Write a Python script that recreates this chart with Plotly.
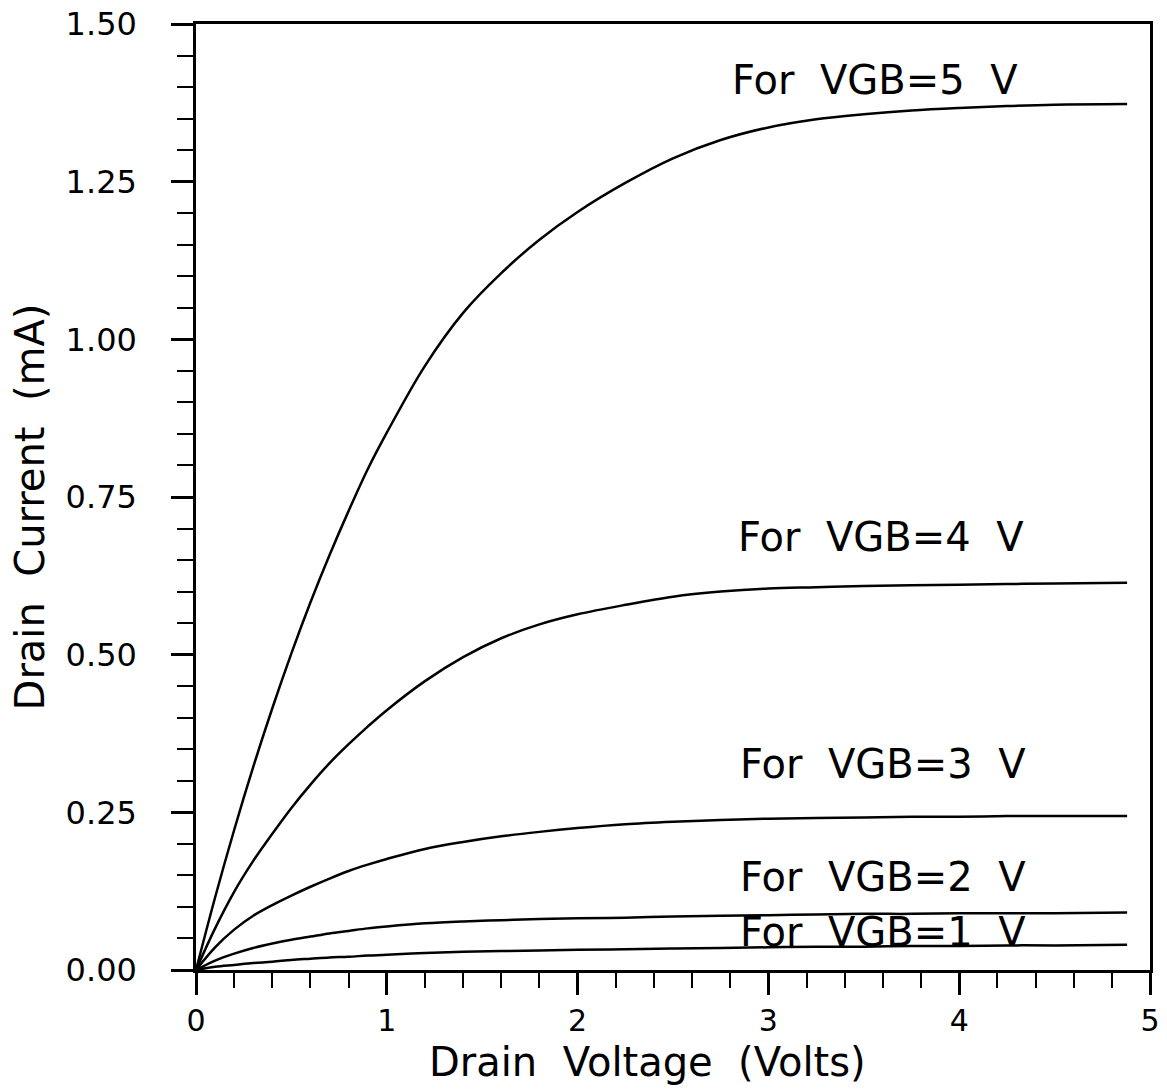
import plotly.graph_objects as go

# Drain voltage (Volts)
vd = [0, 0.1, 0.2, 0.3, 0.4, 0.5, 0.6, 0.7, 0.8, 0.9, 1.0, 1.2, 1.4, 1.6, 1.8,
      2.0, 2.25, 2.5, 2.75, 3.0, 3.25, 3.5, 3.75, 4.0, 4.25, 4.5, 4.88]

# Drain current (mA) for each gate-bulk voltage
id_vgb5 = [0, 0.115, 0.222, 0.322, 0.415, 0.502, 0.583, 0.658, 0.728, 0.794, 0.852, 0.958, 1.042, 1.105, 1.158,
           1.202, 1.248, 1.287, 1.316, 1.336, 1.349, 1.357, 1.363, 1.367, 1.370, 1.372, 1.373]
id_vgb4 = [0, 0.066, 0.124, 0.173, 0.216, 0.257, 0.294, 0.328, 0.358, 0.386, 0.412, 0.458, 0.496, 0.526, 0.548,
           0.564, 0.579, 0.592, 0.600, 0.605, 0.607, 0.609, 0.610, 0.611, 0.612, 0.613, 0.614]
id_vgb3 = [0, 0.036, 0.064, 0.086, 0.103, 0.118, 0.132, 0.145, 0.157, 0.167, 0.176, 0.192, 0.203, 0.212, 0.219,
           0.225, 0.231, 0.235, 0.238, 0.240, 0.241, 0.242, 0.243, 0.243, 0.244, 0.244, 0.244]
id_vgb2 = [0, 0.015, 0.026, 0.035, 0.042, 0.048, 0.053, 0.058, 0.062, 0.066, 0.069, 0.074, 0.077, 0.079, 0.081,
           0.082, 0.083, 0.085, 0.086, 0.087, 0.088, 0.089, 0.089, 0.090, 0.090, 0.090, 0.091]
id_vgb1 = [0, 0.005, 0.008, 0.011, 0.013, 0.016, 0.018, 0.020, 0.021, 0.023, 0.024, 0.027, 0.029, 0.030, 0.031,
           0.032, 0.033, 0.034, 0.035, 0.036, 0.037, 0.037, 0.038, 0.038, 0.039, 0.039, 0.040]

series = [id_vgb5, id_vgb4, id_vgb3, id_vgb2, id_vgb1]

label_texts = ["For  VGB=5  V", "For  VGB=4  V", "For  VGB=3  V", "For  VGB=2  V", "For  VGB=1  V"]
label_x = [3.56, 3.59, 3.6, 3.6, 3.6]
label_y = [1.411, 0.687, 0.327, 0.147, 0.06]

y_ticks = [0, 0.25, 0.5, 0.75, 1.0, 1.25, 1.5]
y_ticktext = ["0.00", "0.25", "0.50", "0.75", "1.00", "1.25", "1.50"]
x_ticks = [0, 1, 2, 3, 4, 5]

FONT = "DejaVu Sans"

fig = go.Figure()
for s in series:
    fig.add_trace(go.Scatter(x=vd, y=s, mode="lines",
                             line=dict(color="black", width=2.5, shape="spline", smoothing=1.0),
                             showlegend=False, hoverinfo="skip"))

for t, x, y in zip(label_texts, label_x, label_y):
    fig.add_annotation(x=x, y=y, text=t, showarrow=False, xanchor="center", yanchor="middle",
                       font=dict(family=FONT, size=40, color="black"))

fig.add_annotation(xref="paper", yref="paper", x=0.473, y=-0.0973, text="Drain  Voltage  (Volts)",
                   showarrow=False, xanchor="center", yanchor="middle",
                   font=dict(family=FONT, size=40, color="black"))
fig.add_annotation(xref="paper", yref="paper", x=-0.174, y=0.489, text="Drain  Current  (mA)",
                   textangle=-90, showarrow=False, xanchor="center", yanchor="middle",
                   font=dict(family=FONT, size=40, color="black"))

fig.update_xaxes(range=[0, 5], tickvals=x_ticks, ticks="outside", ticklen=22, tickwidth=2.5,
                 tickcolor="black", showline=True, linecolor="black", linewidth=2.5, mirror=True,
                 showgrid=False, zeroline=False, ticklabelstandoff=0,
                 tickfont=dict(family=FONT, size=30, color="black"),
                 minor=dict(dtick=0.2, ticks="outside", ticklen=15, tickwidth=2, tickcolor="black",
                            showgrid=False))
fig.update_yaxes(range=[0, 1.5], tickvals=y_ticks, ticktext=y_ticktext, ticks="outside", ticklen=22,
                 tickwidth=2.5, tickcolor="black", showline=True, linecolor="black", linewidth=2.5,
                 mirror=True, showgrid=False, zeroline=False, ticklabelstandoff=28,
                 tickfont=dict(family=FONT, size=32, color="black"),
                 minor=dict(dtick=0.05, ticks="outside", ticklen=16, tickwidth=2, tickcolor="black",
                            showgrid=False))

fig.update_layout(width=1167, height=1090, margin=dict(l=196, r=17, t=24, b=120, autoexpand=False),
                  plot_bgcolor="white", paper_bgcolor="white")

fig.write_html("out.html")
